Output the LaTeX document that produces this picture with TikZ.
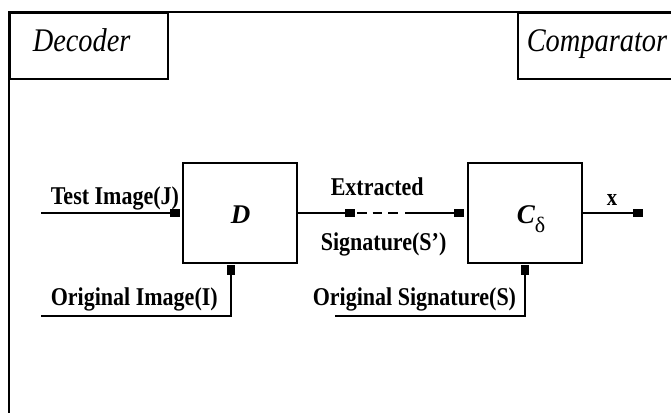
\documentclass[tikz,border=0pt]{standalone}
\usepackage{fontspec}
\setmainfont{Liberation Serif}
\newfontfamily\lab[FakeStretch=0.86]{Liberation Serif}
\usetikzlibrary{arrows.meta}
\begin{document}
\begin{tikzpicture}[x=1pt,y=-1pt, line width=1.6pt,
  blk/.style={draw, minimum width=114pt, minimum height=100pt, inner sep=0pt},
  titlebox/.style={draw, inner sep=0pt, anchor=north west},
  lbl/.style={font=\lab\fontsize{25.6}{28}\selectfont\bfseries, inner sep=0pt, anchor=base west},
  ttl/.style={font=\lab\fontsize{33}{36}\selectfont\itshape, inner sep=0pt, anchor=base west},
  tip/.style={-{Rectangle[length=10pt,width=7.5pt]}},
]
\useasboundingbox (0,0) rectangle (671,412);
\clip (0,0) rectangle (671,412);
% outer frame
\draw (9,420) -- (9,12) -- (690,12);
% title boxes
\node[titlebox, minimum width=158pt, minimum height=66pt] (decbox) at (9,12) {};
\node[titlebox, minimum width=170pt, minimum height=66pt] (cmpbox) at (517,12) {};
\node[ttl] (dectxt) at (32,52) {Decoder};
\node[ttl] (cmptxt) at (526,52) {Comparator};
% blocks
\node[blk] (D) at (240,213) {};
\node[blk] (C) at (525,213) {};
\node[font=\fontsize{27}{27}\selectfont\bfseries\itshape, inner sep=0pt, anchor=base] (dlab) at (240.5,223) {D};
\node[inner sep=0pt, anchor=base west] (clab) at (516,223)
  {\fontsize{27}{27}\selectfont\bfseries\itshape C\raisebox{-9pt}{\fontsize{22}{22}\selectfont\upshape\mdseries δ}};
% coordinates
\coordinate (tin) at (41,213);
\coordinate (oin) at (41,316);
\coordinate (osin) at (335,316);
\coordinate (m1) at (355,213);
\coordinate (d1) at (357,213);
\coordinate (d2) at (398,213);
\coordinate (m2) at (405,213);
\coordinate (out) at (643,213);
% connectors
\draw[tip, shorten >=2pt] (tin) -- (D.west);
\draw[tip, shorten >=1pt] (oin) -| ([xshift=-9pt]D.south);
\draw[tip] (D.east) -- (m1);
\draw[dash pattern=on 9.5pt off 6pt] (d1) -- (d2);
\draw[tip, shorten >=3pt] (m2) -- (C.west);
\draw[tip] (C.east) -- (out);
\draw[tip, shorten >=1pt] (osin) -| (C.south);
% labels
\node[lbl] (ltest) at (50,204) {Test Image(J)};
\node[lbl] (lorig) at (50,305) {Original Image(I)};
\node[lbl] (lext) at (330,195) {Extracted};
\node[lbl] (lsig) at (320,250) {Signature(S’)};
\node[lbl] (losig) at (312,305) {Original Signature(S)};
\node[font=\lab\fontsize{24}{24}\selectfont\bfseries, inner sep=0pt, anchor=base] (lx) at (612,205) {x};
\end{tikzpicture}
\end{document}
